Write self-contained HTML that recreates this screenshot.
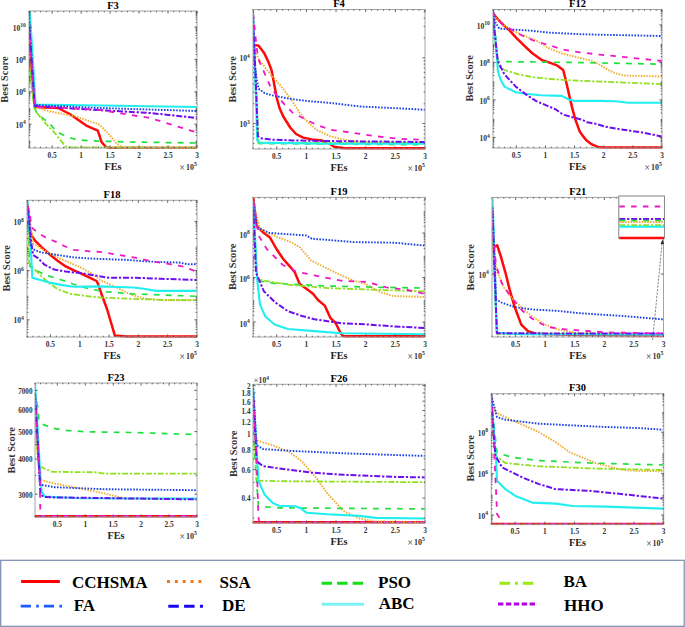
<!DOCTYPE html><html><head><meta charset="utf-8"><style>html,body{margin:0;padding:0;background:#fff;}svg{display:block;}</style></head><body>
<svg width="685" height="627" viewBox="0 0 685 627" font-family='"Liberation Serif", serif'>
<rect width="685" height="627" fill="#fff"/>
<clipPath id="c0"><rect x="29" y="10" width="168" height="139"/></clipPath>
<polyline points="29.0,40.0 34.7,107.0 58.0,108.0 69.7,114.0 86.3,125.6 97.8,130.7 101.6,142.2 106.0,147.0 109.3,148.0 197.0,148.0" fill="none" stroke="#ff0a0a" stroke-width="2.5" stroke-linejoin="round" clip-path="url(#c0)"/>
<polyline points="29.0,50.0 34.7,107.0 50.5,111.5 76.0,116.6 99.0,124.3 109.3,134.5 116.0,143.0 122.0,147.5 197.0,147.5" fill="none" stroke="#f0ac2c" stroke-width="1.9" stroke-dasharray="1.5 1.3" stroke-linejoin="round" clip-path="url(#c0)"/>
<polyline points="29.0,60.0 34.4,108.0 37.2,114.0 42.0,117.5 49.9,123.9 56.3,131.1 60.3,133.5 67.5,137.1 77.8,139.9 88.9,140.8 130.0,142.0 197.0,143.0" fill="none" stroke="#20e040" stroke-width="1.7" stroke-dasharray="5.8 6.2" stroke-linejoin="round" clip-path="url(#c0)"/>
<polyline points="29.0,66.0 34.4,108.0 38.0,114.4 46.0,123.9 53.9,131.9 60.3,139.9 65.1,145.9 67.5,147.4 197.0,147.6" fill="none" stroke="#90e020" stroke-width="1.8" stroke-dasharray="6 1.8 2.3 1.8" stroke-linejoin="round" clip-path="url(#c0)"/>
<polyline points="29.8,11.0 35.6,104.5 197.0,107.0" fill="none" stroke="#22eef0" stroke-width="2.1" stroke-linejoin="round" clip-path="url(#c0)"/>
<polyline points="29.0,18.0 34.7,105.0 100.0,108.0 197.0,111.0" fill="none" stroke="#1a40e8" stroke-width="1.9" stroke-dasharray="1.6 1.45" stroke-linejoin="round" clip-path="url(#c0)"/>
<polyline points="29.0,22.0 34.7,106.0 80.0,109.0 150.0,113.0 197.0,118.0" fill="none" stroke="#6c10f0" stroke-width="2.0" stroke-dasharray="6 1.8 2.3 1.8" stroke-linejoin="round" clip-path="url(#c0)"/>
<polyline points="29.0,28.0 34.7,107.0 70.0,108.0 100.0,110.0 150.0,118.0 197.0,132.5" fill="none" stroke="#f018c4" stroke-width="1.8" stroke-dasharray="5.5 6.3" stroke-linejoin="round" clip-path="url(#c0)"/>
<rect x="29" y="11" width="168" height="137" fill="none" stroke="#a4a4a4" stroke-width="1"/>
<path d="M29.00,148v-1.3M29.00,11v1.3M34.79,148v-1.3M34.79,11v1.3M40.59,148v-1.3M40.59,11v1.3M46.38,148v-1.3M46.38,11v1.3M52.17,148v-2.6M52.17,11v2.6M57.97,148v-1.3M57.97,11v1.3M63.76,148v-1.3M63.76,11v1.3M69.55,148v-1.3M69.55,11v1.3M75.34,148v-1.3M75.34,11v1.3M81.14,148v-2.6M81.14,11v2.6M86.93,148v-1.3M86.93,11v1.3M92.72,148v-1.3M92.72,11v1.3M98.52,148v-1.3M98.52,11v1.3M104.31,148v-1.3M104.31,11v1.3M110.10,148v-2.6M110.10,11v2.6M115.90,148v-1.3M115.90,11v1.3M121.69,148v-1.3M121.69,11v1.3M127.48,148v-1.3M127.48,11v1.3M133.28,148v-1.3M133.28,11v1.3M139.07,148v-2.6M139.07,11v2.6M144.86,148v-1.3M144.86,11v1.3M150.66,148v-1.3M150.66,11v1.3M156.45,148v-1.3M156.45,11v1.3M162.24,148v-1.3M162.24,11v1.3M168.03,148v-2.6M168.03,11v2.6M173.83,148v-1.3M173.83,11v1.3M179.62,148v-1.3M179.62,11v1.3M185.41,148v-1.3M185.41,11v1.3M191.21,148v-1.3M191.21,11v1.3M197.00,148v-2.6M197.00,11v2.6M29,124.20h2.6M197,124.20h-2.6M29,91.80h2.6M197,91.80h-2.6M29,59.40h2.6M197,59.40h-2.6M29,27.00h2.6M197,27.00h-2.6M29,146.85h1.3M197,146.85h-1.3M29,145.28h1.3M197,145.28h-1.3M29,143.99h1.3M197,143.99h-1.3M29,142.91h1.3M197,142.91h-1.3M29,141.97h1.3M197,141.97h-1.3M29,141.14h1.3M197,141.14h-1.3M29,135.52h1.3M197,135.52h-1.3M29,132.67h1.3M197,132.67h-1.3M29,130.65h1.3M197,130.65h-1.3M29,129.08h1.3M197,129.08h-1.3M29,127.79h1.3M197,127.79h-1.3M29,126.71h1.3M197,126.71h-1.3M29,125.77h1.3M197,125.77h-1.3M29,124.94h1.3M197,124.94h-1.3M29,119.32h1.3M197,119.32h-1.3M29,116.47h1.3M197,116.47h-1.3M29,114.45h1.3M197,114.45h-1.3M29,112.88h1.3M197,112.88h-1.3M29,111.59h1.3M197,111.59h-1.3M29,110.51h1.3M197,110.51h-1.3M29,109.57h1.3M197,109.57h-1.3M29,108.74h1.3M197,108.74h-1.3M29,103.12h1.3M197,103.12h-1.3M29,100.27h1.3M197,100.27h-1.3M29,98.25h1.3M197,98.25h-1.3M29,96.68h1.3M197,96.68h-1.3M29,95.39h1.3M197,95.39h-1.3M29,94.31h1.3M197,94.31h-1.3M29,93.37h1.3M197,93.37h-1.3M29,92.54h1.3M197,92.54h-1.3M29,86.92h1.3M197,86.92h-1.3M29,84.07h1.3M197,84.07h-1.3M29,82.05h1.3M197,82.05h-1.3M29,80.48h1.3M197,80.48h-1.3M29,79.19h1.3M197,79.19h-1.3M29,78.11h1.3M197,78.11h-1.3M29,77.17h1.3M197,77.17h-1.3M29,76.34h1.3M197,76.34h-1.3M29,70.72h1.3M197,70.72h-1.3M29,67.87h1.3M197,67.87h-1.3M29,65.85h1.3M197,65.85h-1.3M29,64.28h1.3M197,64.28h-1.3M29,62.99h1.3M197,62.99h-1.3M29,61.91h1.3M197,61.91h-1.3M29,60.97h1.3M197,60.97h-1.3M29,60.14h1.3M197,60.14h-1.3M29,54.52h1.3M197,54.52h-1.3M29,51.67h1.3M197,51.67h-1.3M29,49.65h1.3M197,49.65h-1.3M29,48.08h1.3M197,48.08h-1.3M29,46.79h1.3M197,46.79h-1.3M29,45.71h1.3M197,45.71h-1.3M29,44.77h1.3M197,44.77h-1.3M29,43.94h1.3M197,43.94h-1.3M29,38.32h1.3M197,38.32h-1.3M29,35.47h1.3M197,35.47h-1.3M29,33.45h1.3M197,33.45h-1.3M29,31.88h1.3M197,31.88h-1.3M29,30.59h1.3M197,30.59h-1.3M29,29.51h1.3M197,29.51h-1.3M29,28.57h1.3M197,28.57h-1.3M29,27.74h1.3M197,27.74h-1.3M29,22.12h1.3M197,22.12h-1.3M29,19.27h1.3M197,19.27h-1.3M29,17.25h1.3M197,17.25h-1.3M29,15.68h1.3M197,15.68h-1.3M29,14.39h1.3M197,14.39h-1.3M29,13.31h1.3M197,13.31h-1.3M29,12.37h1.3M197,12.37h-1.3M29,11.54h1.3M197,11.54h-1.3" stroke="#4a4a4a" stroke-width="0.85" fill="none"/>
<text x="52.2" y="158.0" font-size="7.4" text-anchor="middle" font-weight="bold" fill="#333">0.5</text>
<text x="81.1" y="158.0" font-size="7.4" text-anchor="middle" font-weight="bold" fill="#333">1</text>
<text x="110.1" y="158.0" font-size="7.4" text-anchor="middle" font-weight="bold" fill="#333">1.5</text>
<text x="139.1" y="158.0" font-size="7.4" text-anchor="middle" font-weight="bold" fill="#333">2</text>
<text x="168.0" y="158.0" font-size="7.4" text-anchor="middle" font-weight="bold" fill="#333">2.5</text>
<text x="197.0" y="158.0" font-size="7.4" text-anchor="middle" font-weight="bold" fill="#333">3</text>
<text x="196.8" y="169.8" font-size="8" font-weight="bold" text-anchor="end" fill="#333"><tspan font-size="9.5" font-weight="normal" dy="1.2">×</tspan><tspan dx="1" dy="-1.2">10</tspan><tspan font-size="5.8" dy="-3.6">5</tspan></text>
<text x="113.0" y="169.5" font-size="10.2" text-anchor="middle" font-weight="bold" fill="#222">FEs</text>
<text x="113.0" y="8.6" font-size="10.5" text-anchor="middle" font-weight="bold" fill="#000">F3</text>
<text transform="translate(8.4,79.5) rotate(-90)" font-size="10.4" text-anchor="middle" font-weight="bold" fill="#333">Best Score</text>
<text x="25.8" y="127.8" font-size="7.5" font-weight="bold" text-anchor="end" fill="#333">10<tspan font-size="5.6" dy="-3.5">4</tspan></text>
<text x="25.8" y="95.4" font-size="7.5" font-weight="bold" text-anchor="end" fill="#333">10<tspan font-size="5.6" dy="-3.5">6</tspan></text>
<text x="25.8" y="63.0" font-size="7.5" font-weight="bold" text-anchor="end" fill="#333">10<tspan font-size="5.6" dy="-3.5">8</tspan></text>
<text x="25.8" y="30.6" font-size="7.5" font-weight="bold" text-anchor="end" fill="#333">10<tspan font-size="5.6" dy="-3.5">10</tspan></text>
<clipPath id="c1"><rect x="253" y="8.5" width="172" height="141.5"/></clipPath>
<polyline points="253.0,45.2 258.4,45.4 264.5,53.6 268.4,62.0 271.5,70.0 273.7,81.5 276.6,97.3 279.5,108.0 283.0,116.0 290.2,127.5 296.0,134.0 303.1,137.6 311.8,139.4 321.8,140.4 329.0,143.3 334.0,146.8 344.6,148.2 425.0,148.2" fill="none" stroke="#ff0a0a" stroke-width="2.5" stroke-linejoin="round" clip-path="url(#c1)"/>
<polyline points="253.0,40.0 254.5,50.8 258.4,58.6 265.8,68.6 274.4,78.7 283.0,88.7 291.7,100.2 298.8,111.7 307.5,121.8 317.5,130.4 330.0,136.1 343.5,139.5 355.0,141.5 425.0,143.6" fill="none" stroke="#f0ac2c" stroke-width="1.9" stroke-dasharray="1.5 1.3" stroke-linejoin="round" clip-path="url(#c1)"/>
<polyline points="253.0,10.0 258.4,143.5 425.0,144.8" fill="none" stroke="#20e040" stroke-width="1.7" stroke-dasharray="5.8 6.2" stroke-linejoin="round" clip-path="url(#c1)"/>
<polyline points="253.0,20.0 258.4,142.8 425.0,143.2" fill="none" stroke="#90e020" stroke-width="1.8" stroke-dasharray="6 1.8 2.3 1.8" stroke-linejoin="round" clip-path="url(#c1)"/>
<polyline points="253.0,12.0 256.0,100.0 257.2,140.4 260.0,142.6 330.0,143.8 425.0,143.8" fill="none" stroke="#22eef0" stroke-width="2.1" stroke-linejoin="round" clip-path="url(#c1)"/>
<polyline points="253.0,12.8 254.3,60.0 256.5,78.7 258.6,88.7 264.4,93.0 271.5,95.2 285.9,98.1 300.3,100.2 314.6,101.7 330.0,102.9 360.0,106.5 400.0,108.4 425.0,109.8" fill="none" stroke="#1a40e8" stroke-width="1.9" stroke-dasharray="1.6 1.45" stroke-linejoin="round" clip-path="url(#c1)"/>
<polyline points="253.0,12.8 256.5,100.0 257.9,136.1 261.5,138.3 271.5,139.7 293.1,140.4 330.0,141.1 425.0,142.0" fill="none" stroke="#6c10f0" stroke-width="2.0" stroke-dasharray="6 1.8 2.3 1.8" stroke-linejoin="round" clip-path="url(#c1)"/>
<polyline points="253.0,12.8 256.2,43.0 257.8,56.4 259.3,61.4 264.4,72.9 270.1,85.9 275.9,94.5 285.9,106.0 293.1,113.1 304.6,118.9 316.1,124.6 330.0,129.6 358.4,133.7 373.0,135.9 387.6,137.6 400.0,138.8 425.0,139.9" fill="none" stroke="#f018c4" stroke-width="1.8" stroke-dasharray="5.5 6.3" stroke-linejoin="round" clip-path="url(#c1)"/>
<rect x="253" y="9.5" width="172" height="139.5" fill="none" stroke="#a4a4a4" stroke-width="1"/>
<path d="M253.00,149v-1.3M253.00,9.5v1.3M258.93,149v-1.3M258.93,9.5v1.3M264.86,149v-1.3M264.86,9.5v1.3M270.79,149v-1.3M270.79,9.5v1.3M276.72,149v-2.6M276.72,9.5v2.6M282.66,149v-1.3M282.66,9.5v1.3M288.59,149v-1.3M288.59,9.5v1.3M294.52,149v-1.3M294.52,9.5v1.3M300.45,149v-1.3M300.45,9.5v1.3M306.38,149v-2.6M306.38,9.5v2.6M312.31,149v-1.3M312.31,9.5v1.3M318.24,149v-1.3M318.24,9.5v1.3M324.17,149v-1.3M324.17,9.5v1.3M330.10,149v-1.3M330.10,9.5v1.3M336.03,149v-2.6M336.03,9.5v2.6M341.97,149v-1.3M341.97,9.5v1.3M347.90,149v-1.3M347.90,9.5v1.3M353.83,149v-1.3M353.83,9.5v1.3M359.76,149v-1.3M359.76,9.5v1.3M365.69,149v-2.6M365.69,9.5v2.6M371.62,149v-1.3M371.62,9.5v1.3M377.55,149v-1.3M377.55,9.5v1.3M383.48,149v-1.3M383.48,9.5v1.3M389.41,149v-1.3M389.41,9.5v1.3M395.34,149v-2.6M395.34,9.5v2.6M401.28,149v-1.3M401.28,9.5v1.3M407.21,149v-1.3M407.21,9.5v1.3M413.14,149v-1.3M413.14,9.5v1.3M419.07,149v-1.3M419.07,9.5v1.3M425.00,149v-2.6M425.00,9.5v2.6M253,123.60h2.6M425,123.60h-2.6M253,57.80h2.6M425,57.80h-2.6M253,143.41h1.3M425,143.41h-1.3M253,138.20h1.3M425,138.20h-1.3M253,133.79h1.3M425,133.79h-1.3M253,129.98h1.3M425,129.98h-1.3M253,126.61h1.3M425,126.61h-1.3M253,103.79h1.3M425,103.79h-1.3M253,92.21h1.3M425,92.21h-1.3M253,83.98h1.3M425,83.98h-1.3M253,77.61h1.3M425,77.61h-1.3M253,72.40h1.3M425,72.40h-1.3M253,67.99h1.3M425,67.99h-1.3M253,64.18h1.3M425,64.18h-1.3M253,60.81h1.3M425,60.81h-1.3M253,37.99h1.3M425,37.99h-1.3M253,26.41h1.3M425,26.41h-1.3M253,18.18h1.3M425,18.18h-1.3M253,11.81h1.3M425,11.81h-1.3" stroke="#4a4a4a" stroke-width="0.85" fill="none"/>
<text x="276.7" y="159.0" font-size="7.4" text-anchor="middle" font-weight="bold" fill="#333">0.5</text>
<text x="306.4" y="159.0" font-size="7.4" text-anchor="middle" font-weight="bold" fill="#333">1</text>
<text x="336.0" y="159.0" font-size="7.4" text-anchor="middle" font-weight="bold" fill="#333">1.5</text>
<text x="365.7" y="159.0" font-size="7.4" text-anchor="middle" font-weight="bold" fill="#333">2</text>
<text x="395.3" y="159.0" font-size="7.4" text-anchor="middle" font-weight="bold" fill="#333">2.5</text>
<text x="425.0" y="159.0" font-size="7.4" text-anchor="middle" font-weight="bold" fill="#333">3</text>
<text x="424.8" y="170.8" font-size="8" font-weight="bold" text-anchor="end" fill="#333"><tspan font-size="9.5" font-weight="normal" dy="1.2">×</tspan><tspan dx="1" dy="-1.2">10</tspan><tspan font-size="5.8" dy="-3.6">5</tspan></text>
<text x="339.0" y="170.5" font-size="10.2" text-anchor="middle" font-weight="bold" fill="#222">FEs</text>
<text x="339.0" y="7.1" font-size="10.5" text-anchor="middle" font-weight="bold" fill="#000">F4</text>
<text transform="translate(236,79.3) rotate(-90)" font-size="10.4" text-anchor="middle" font-weight="bold" fill="#333">Best Score</text>
<text x="249.8" y="127.2" font-size="7.5" font-weight="bold" text-anchor="end" fill="#333">10<tspan font-size="5.6" dy="-3.5">3</tspan></text>
<text x="249.8" y="61.4" font-size="7.5" font-weight="bold" text-anchor="end" fill="#333">10<tspan font-size="5.6" dy="-3.5">4</tspan></text>
<clipPath id="c2"><rect x="493" y="8.5" width="169" height="140.5"/></clipPath>
<polyline points="493.3,14.2 500.5,22.1 509.7,30.6 516.3,37.8 524.2,45.7 532.0,53.0 541.7,60.0 550.3,62.9 557.5,65.7 563.2,70.0 566.1,81.5 570.5,100.9 573.1,111.4 575.3,119.3 577.5,125.4 579.7,131.5 582.8,135.9 586.3,140.3 591.5,144.2 597.7,146.9 603.8,147.5 662.0,147.5" fill="none" stroke="#ff0a0a" stroke-width="2.5" stroke-linejoin="round" clip-path="url(#c2)"/>
<polyline points="493.3,15.5 500.5,22.1 509.7,29.3 522.8,35.2 536.0,40.5 549.1,48.4 562.3,53.6 580.0,57.9 592.0,60.9 600.0,64.9 608.0,69.9 615.9,73.4 623.9,75.5 662.0,76.5" fill="none" stroke="#f0ac2c" stroke-width="1.9" stroke-dasharray="1.5 1.3" stroke-linejoin="round" clip-path="url(#c2)"/>
<polyline points="493.0,10.0 497.9,61.6 519.2,61.8 583.5,62.6 662.0,64.2" fill="none" stroke="#20e040" stroke-width="1.7" stroke-dasharray="5.8 6.2" stroke-linejoin="round" clip-path="url(#c2)"/>
<polyline points="493.0,12.0 496.5,55.0 497.9,65.7 504.4,70.0 518.7,74.4 533.0,77.2 547.4,78.7 561.8,79.8 580.0,80.8 615.6,82.2 662.0,84.1" fill="none" stroke="#90e020" stroke-width="1.8" stroke-dasharray="6 1.8 2.3 1.8" stroke-linejoin="round" clip-path="url(#c2)"/>
<polyline points="492.6,10.3 495.9,44.4 497.2,60.0 497.9,71.5 500.8,80.1 504.4,86.6 515.8,92.3 525.9,93.7 540.2,95.2 561.8,95.9 568.9,99.5 574.7,100.9 599.5,100.9 615.6,101.2 628.4,102.8 662.0,102.8" fill="none" stroke="#22eef0" stroke-width="2.1" stroke-linejoin="round" clip-path="url(#c2)"/>
<polyline points="493.3,12.9 495.3,22.1 499.2,28.6 509.7,29.3 529.4,30.6 549.1,32.6 580.0,34.2 599.5,34.7 662.0,36.0" fill="none" stroke="#1a40e8" stroke-width="1.9" stroke-dasharray="1.6 1.45" stroke-linejoin="round" clip-path="url(#c2)"/>
<polyline points="493.3,18.1 496.6,51.0 497.9,61.4 504.4,74.4 515.8,86.6 525.9,94.4 535.9,100.9 547.4,105.9 556.0,109.5 560.0,112.7 564.4,114.9 573.1,117.5 581.9,119.7 587.2,122.3 595.0,123.6 603.8,126.3 612.6,128.0 620.0,129.3 641.3,132.3 662.0,136.5" fill="none" stroke="#6c10f0" stroke-width="2.0" stroke-dasharray="6 1.8 2.3 1.8" stroke-linejoin="round" clip-path="url(#c2)"/>
<polyline points="492.6,11.6 497.9,19.5 503.1,24.7 509.7,28.6 516.3,32.6 524.2,36.5 533.4,40.5 546.5,44.4 563.6,49.7 580.0,52.3 599.5,54.6 631.6,57.8 662.0,61.0" fill="none" stroke="#f018c4" stroke-width="1.8" stroke-dasharray="5.5 6.3" stroke-linejoin="round" clip-path="url(#c2)"/>
<rect x="493" y="9.5" width="169" height="138.5" fill="none" stroke="#a4a4a4" stroke-width="1"/>
<path d="M493.00,148v-1.3M493.00,9.5v1.3M498.83,148v-1.3M498.83,9.5v1.3M504.66,148v-1.3M504.66,9.5v1.3M510.48,148v-1.3M510.48,9.5v1.3M516.31,148v-2.6M516.31,9.5v2.6M522.14,148v-1.3M522.14,9.5v1.3M527.97,148v-1.3M527.97,9.5v1.3M533.79,148v-1.3M533.79,9.5v1.3M539.62,148v-1.3M539.62,9.5v1.3M545.45,148v-2.6M545.45,9.5v2.6M551.28,148v-1.3M551.28,9.5v1.3M557.10,148v-1.3M557.10,9.5v1.3M562.93,148v-1.3M562.93,9.5v1.3M568.76,148v-1.3M568.76,9.5v1.3M574.59,148v-2.6M574.59,9.5v2.6M580.41,148v-1.3M580.41,9.5v1.3M586.24,148v-1.3M586.24,9.5v1.3M592.07,148v-1.3M592.07,9.5v1.3M597.90,148v-1.3M597.90,9.5v1.3M603.72,148v-2.6M603.72,9.5v2.6M609.55,148v-1.3M609.55,9.5v1.3M615.38,148v-1.3M615.38,9.5v1.3M621.21,148v-1.3M621.21,9.5v1.3M627.03,148v-1.3M627.03,9.5v1.3M632.86,148v-2.6M632.86,9.5v2.6M638.69,148v-1.3M638.69,9.5v1.3M644.52,148v-1.3M644.52,9.5v1.3M650.34,148v-1.3M650.34,9.5v1.3M656.17,148v-1.3M656.17,9.5v1.3M662.00,148v-2.6M662.00,9.5v2.6M493,137.40h2.6M662,137.40h-2.6M493,99.90h2.6M662,99.90h-2.6M493,62.40h2.6M662,62.40h-2.6M493,24.90h2.6M662,24.90h-2.6M493,147.20h1.3M662,147.20h-1.3M493,144.86h1.3M662,144.86h-1.3M493,143.04h1.3M662,143.04h-1.3M493,141.56h1.3M662,141.56h-1.3M493,140.30h1.3M662,140.30h-1.3M493,139.22h1.3M662,139.22h-1.3M493,138.26h1.3M662,138.26h-1.3M493,131.76h1.3M662,131.76h-1.3M493,128.45h1.3M662,128.45h-1.3M493,126.11h1.3M662,126.11h-1.3M493,124.29h1.3M662,124.29h-1.3M493,122.81h1.3M662,122.81h-1.3M493,121.55h1.3M662,121.55h-1.3M493,120.47h1.3M662,120.47h-1.3M493,119.51h1.3M662,119.51h-1.3M493,113.01h1.3M662,113.01h-1.3M493,109.70h1.3M662,109.70h-1.3M493,107.36h1.3M662,107.36h-1.3M493,105.54h1.3M662,105.54h-1.3M493,104.06h1.3M662,104.06h-1.3M493,102.80h1.3M662,102.80h-1.3M493,101.72h1.3M662,101.72h-1.3M493,100.76h1.3M662,100.76h-1.3M493,94.26h1.3M662,94.26h-1.3M493,90.95h1.3M662,90.95h-1.3M493,88.61h1.3M662,88.61h-1.3M493,86.79h1.3M662,86.79h-1.3M493,85.31h1.3M662,85.31h-1.3M493,84.05h1.3M662,84.05h-1.3M493,82.97h1.3M662,82.97h-1.3M493,82.01h1.3M662,82.01h-1.3M493,75.51h1.3M662,75.51h-1.3M493,72.20h1.3M662,72.20h-1.3M493,69.86h1.3M662,69.86h-1.3M493,68.04h1.3M662,68.04h-1.3M493,66.56h1.3M662,66.56h-1.3M493,65.30h1.3M662,65.30h-1.3M493,64.22h1.3M662,64.22h-1.3M493,63.26h1.3M662,63.26h-1.3M493,56.76h1.3M662,56.76h-1.3M493,53.45h1.3M662,53.45h-1.3M493,51.11h1.3M662,51.11h-1.3M493,49.29h1.3M662,49.29h-1.3M493,47.81h1.3M662,47.81h-1.3M493,46.55h1.3M662,46.55h-1.3M493,45.47h1.3M662,45.47h-1.3M493,44.51h1.3M662,44.51h-1.3M493,38.01h1.3M662,38.01h-1.3M493,34.70h1.3M662,34.70h-1.3M493,32.36h1.3M662,32.36h-1.3M493,30.54h1.3M662,30.54h-1.3M493,29.06h1.3M662,29.06h-1.3M493,27.80h1.3M662,27.80h-1.3M493,26.72h1.3M662,26.72h-1.3M493,25.76h1.3M662,25.76h-1.3M493,19.26h1.3M662,19.26h-1.3M493,15.95h1.3M662,15.95h-1.3M493,13.61h1.3M662,13.61h-1.3M493,11.79h1.3M662,11.79h-1.3M493,10.31h1.3M662,10.31h-1.3" stroke="#4a4a4a" stroke-width="0.85" fill="none"/>
<text x="516.3" y="158.0" font-size="7.4" text-anchor="middle" font-weight="bold" fill="#333">0.5</text>
<text x="545.4" y="158.0" font-size="7.4" text-anchor="middle" font-weight="bold" fill="#333">1</text>
<text x="574.6" y="158.0" font-size="7.4" text-anchor="middle" font-weight="bold" fill="#333">1.5</text>
<text x="603.7" y="158.0" font-size="7.4" text-anchor="middle" font-weight="bold" fill="#333">2</text>
<text x="632.9" y="158.0" font-size="7.4" text-anchor="middle" font-weight="bold" fill="#333">2.5</text>
<text x="662.0" y="158.0" font-size="7.4" text-anchor="middle" font-weight="bold" fill="#333">3</text>
<text x="661.8" y="169.8" font-size="8" font-weight="bold" text-anchor="end" fill="#333"><tspan font-size="9.5" font-weight="normal" dy="1.2">×</tspan><tspan dx="1" dy="-1.2">10</tspan><tspan font-size="5.8" dy="-3.6">5</tspan></text>
<text x="577.5" y="169.5" font-size="10.2" text-anchor="middle" font-weight="bold" fill="#222">FEs</text>
<text x="577.5" y="7.1" font-size="10.5" text-anchor="middle" font-weight="bold" fill="#000">F12</text>
<text transform="translate(472.8,78.3) rotate(-90)" font-size="10.4" text-anchor="middle" font-weight="bold" fill="#333">Best Score</text>
<text x="489.8" y="141.0" font-size="7.5" font-weight="bold" text-anchor="end" fill="#333">10<tspan font-size="5.6" dy="-3.5">4</tspan></text>
<text x="489.8" y="103.5" font-size="7.5" font-weight="bold" text-anchor="end" fill="#333">10<tspan font-size="5.6" dy="-3.5">6</tspan></text>
<text x="489.8" y="66.0" font-size="7.5" font-weight="bold" text-anchor="end" fill="#333">10<tspan font-size="5.6" dy="-3.5">8</tspan></text>
<text x="489.8" y="28.5" font-size="7.5" font-weight="bold" text-anchor="end" fill="#333">10<tspan font-size="5.6" dy="-3.5">10</tspan></text>
<clipPath id="c3"><rect x="27" y="199.3" width="170" height="138.7"/></clipPath>
<polyline points="27.4,218.6 30.0,230.0 31.5,235.4 34.8,240.3 41.3,246.8 49.4,254.2 57.6,260.7 65.7,266.4 73.8,270.4 80.3,273.2 90.1,277.8 96.6,281.0 98.2,284.3 101.5,294.0 107.0,309.0 114.9,335.6 126.3,336.6 197.0,336.6" fill="none" stroke="#ff0a0a" stroke-width="2.5" stroke-linejoin="round" clip-path="url(#c3)"/>
<polyline points="27.9,216.0 29.9,219.2 33.1,243.6 41.3,248.5 49.4,253.3 57.6,257.4 70.6,263.1 82.0,268.0 93.4,274.5 100.0,280.0 117.5,287.9 131.6,294.9 143.9,298.4 161.4,300.2 197.0,300.2" fill="none" stroke="#f0ac2c" stroke-width="1.9" stroke-dasharray="1.5 1.3" stroke-linejoin="round" clip-path="url(#c3)"/>
<polyline points="27.9,215.0 29.9,266.4 34.8,269.6 41.3,272.9 49.4,276.1 62.4,280.2 73.8,284.3 90.1,289.1 107.0,291.8 135.1,294.0 161.4,294.9 197.0,296.3" fill="none" stroke="#20e040" stroke-width="1.7" stroke-dasharray="5.8 6.2" stroke-linejoin="round" clip-path="url(#c3)"/>
<polyline points="27.9,212.0 29.1,263.1 33.1,268.0 41.3,276.1 49.4,283.4 57.6,289.1 70.6,294.0 90.1,296.5 100.0,297.5 135.1,298.9 161.4,299.8 197.0,300.2" fill="none" stroke="#90e020" stroke-width="1.8" stroke-dasharray="6 1.8 2.3 1.8" stroke-linejoin="round" clip-path="url(#c3)"/>
<polyline points="27.4,201.3 30.7,246.8 32.3,277.7 34.8,278.6 41.3,280.2 49.4,282.6 62.4,285.1 73.8,286.7 100.0,286.4 117.5,287.0 133.3,287.5 143.9,288.8 156.1,290.9 197.0,290.9" fill="none" stroke="#22eef0" stroke-width="2.1" stroke-linejoin="round" clip-path="url(#c3)"/>
<polyline points="27.9,208.1 29.1,219.2 30.7,246.8 34.8,250.1 41.3,252.5 57.6,255.0 73.8,257.4 90.1,258.5 115.0,259.5 126.3,259.8 143.9,261.2 161.4,262.1 178.9,262.5 187.7,264.2 197.0,264.2" fill="none" stroke="#1a40e8" stroke-width="1.9" stroke-dasharray="1.6 1.45" stroke-linejoin="round" clip-path="url(#c3)"/>
<polyline points="28.3,207.8 30.7,238.7 33.1,255.0 38.0,258.2 44.5,264.7 54.3,269.6 65.7,271.6 82.0,273.2 98.2,276.1 108.8,277.7 135.1,277.7 161.4,278.8 197.0,280.0" fill="none" stroke="#6c10f0" stroke-width="2.0" stroke-dasharray="6 1.8 2.3 1.8" stroke-linejoin="round" clip-path="url(#c3)"/>
<polyline points="27.4,204.5 29.9,214.3 31.5,227.3 38.0,233.0 46.2,237.9 54.3,241.1 64.1,246.0 73.8,249.8 90.1,251.4 100.0,251.9 117.5,254.6 135.1,257.7 152.6,261.6 170.2,264.2 184.2,266.8 197.0,272.0" fill="none" stroke="#f018c4" stroke-width="1.8" stroke-dasharray="5.5 6.3" stroke-linejoin="round" clip-path="url(#c3)"/>
<rect x="27" y="200.3" width="170" height="136.7" fill="none" stroke="#a4a4a4" stroke-width="1"/>
<path d="M27.00,337v-1.3M27.00,200.3v1.3M32.86,337v-1.3M32.86,200.3v1.3M38.72,337v-1.3M38.72,200.3v1.3M44.59,337v-1.3M44.59,200.3v1.3M50.45,337v-2.6M50.45,200.3v2.6M56.31,337v-1.3M56.31,200.3v1.3M62.17,337v-1.3M62.17,200.3v1.3M68.03,337v-1.3M68.03,200.3v1.3M73.90,337v-1.3M73.90,200.3v1.3M79.76,337v-2.6M79.76,200.3v2.6M85.62,337v-1.3M85.62,200.3v1.3M91.48,337v-1.3M91.48,200.3v1.3M97.34,337v-1.3M97.34,200.3v1.3M103.21,337v-1.3M103.21,200.3v1.3M109.07,337v-2.6M109.07,200.3v2.6M114.93,337v-1.3M114.93,200.3v1.3M120.79,337v-1.3M120.79,200.3v1.3M126.66,337v-1.3M126.66,200.3v1.3M132.52,337v-1.3M132.52,200.3v1.3M138.38,337v-2.6M138.38,200.3v2.6M144.24,337v-1.3M144.24,200.3v1.3M150.10,337v-1.3M150.10,200.3v1.3M155.97,337v-1.3M155.97,200.3v1.3M161.83,337v-1.3M161.83,200.3v1.3M167.69,337v-2.6M167.69,200.3v2.6M173.55,337v-1.3M173.55,200.3v1.3M179.41,337v-1.3M179.41,200.3v1.3M185.28,337v-1.3M185.28,200.3v1.3M191.14,337v-1.3M191.14,200.3v1.3M197.00,337v-2.6M197.00,200.3v2.6M27,319.80h2.6M197,319.80h-2.6M27,270.60h2.6M197,270.60h-2.6M27,221.40h2.6M197,221.40h-2.6M27,336.99h1.3M197,336.99h-1.3M27,332.66h1.3M197,332.66h-1.3M27,329.59h1.3M197,329.59h-1.3M27,327.21h1.3M197,327.21h-1.3M27,325.26h1.3M197,325.26h-1.3M27,323.61h1.3M197,323.61h-1.3M27,322.18h1.3M197,322.18h-1.3M27,320.93h1.3M197,320.93h-1.3M27,312.39h1.3M197,312.39h-1.3M27,308.06h1.3M197,308.06h-1.3M27,304.99h1.3M197,304.99h-1.3M27,302.61h1.3M197,302.61h-1.3M27,300.66h1.3M197,300.66h-1.3M27,299.01h1.3M197,299.01h-1.3M27,297.58h1.3M197,297.58h-1.3M27,296.33h1.3M197,296.33h-1.3M27,287.79h1.3M197,287.79h-1.3M27,283.46h1.3M197,283.46h-1.3M27,280.39h1.3M197,280.39h-1.3M27,278.01h1.3M197,278.01h-1.3M27,276.06h1.3M197,276.06h-1.3M27,274.41h1.3M197,274.41h-1.3M27,272.98h1.3M197,272.98h-1.3M27,271.73h1.3M197,271.73h-1.3M27,263.19h1.3M197,263.19h-1.3M27,258.86h1.3M197,258.86h-1.3M27,255.79h1.3M197,255.79h-1.3M27,253.41h1.3M197,253.41h-1.3M27,251.46h1.3M197,251.46h-1.3M27,249.81h1.3M197,249.81h-1.3M27,248.38h1.3M197,248.38h-1.3M27,247.13h1.3M197,247.13h-1.3M27,238.59h1.3M197,238.59h-1.3M27,234.26h1.3M197,234.26h-1.3M27,231.19h1.3M197,231.19h-1.3M27,228.81h1.3M197,228.81h-1.3M27,226.86h1.3M197,226.86h-1.3M27,225.21h1.3M197,225.21h-1.3M27,223.78h1.3M197,223.78h-1.3M27,222.53h1.3M197,222.53h-1.3M27,213.99h1.3M197,213.99h-1.3M27,209.66h1.3M197,209.66h-1.3M27,206.59h1.3M197,206.59h-1.3M27,204.21h1.3M197,204.21h-1.3M27,202.26h1.3M197,202.26h-1.3M27,200.61h1.3M197,200.61h-1.3" stroke="#4a4a4a" stroke-width="0.85" fill="none"/>
<text x="50.4" y="347.0" font-size="7.4" text-anchor="middle" font-weight="bold" fill="#333">0.5</text>
<text x="79.8" y="347.0" font-size="7.4" text-anchor="middle" font-weight="bold" fill="#333">1</text>
<text x="109.1" y="347.0" font-size="7.4" text-anchor="middle" font-weight="bold" fill="#333">1.5</text>
<text x="138.4" y="347.0" font-size="7.4" text-anchor="middle" font-weight="bold" fill="#333">2</text>
<text x="167.7" y="347.0" font-size="7.4" text-anchor="middle" font-weight="bold" fill="#333">2.5</text>
<text x="197.0" y="347.0" font-size="7.4" text-anchor="middle" font-weight="bold" fill="#333">3</text>
<text x="196.8" y="358.8" font-size="8" font-weight="bold" text-anchor="end" fill="#333"><tspan font-size="9.5" font-weight="normal" dy="1.2">×</tspan><tspan dx="1" dy="-1.2">10</tspan><tspan font-size="5.8" dy="-3.6">5</tspan></text>
<text x="112.0" y="358.5" font-size="10.2" text-anchor="middle" font-weight="bold" fill="#222">FEs</text>
<text x="112.0" y="197.9" font-size="10.5" text-anchor="middle" font-weight="bold" fill="#000">F18</text>
<text transform="translate(9.6,268.4) rotate(-90)" font-size="10.4" text-anchor="middle" font-weight="bold" fill="#333">Best Score</text>
<text x="23.8" y="323.4" font-size="7.5" font-weight="bold" text-anchor="end" fill="#333">10<tspan font-size="5.6" dy="-3.5">4</tspan></text>
<text x="23.8" y="274.2" font-size="7.5" font-weight="bold" text-anchor="end" fill="#333">10<tspan font-size="5.6" dy="-3.5">6</tspan></text>
<text x="23.8" y="225.0" font-size="7.5" font-weight="bold" text-anchor="end" fill="#333">10<tspan font-size="5.6" dy="-3.5">8</tspan></text>
<clipPath id="c4"><rect x="253" y="196.4" width="172" height="141.6"/></clipPath>
<polyline points="253.3,197.7 256.6,225.8 263.3,232.5 269.9,237.4 276.5,249.0 283.2,259.0 289.8,266.4 294.8,272.2 299.7,283.9 306.4,288.8 313.0,293.8 318.0,300.0 325.0,305.9 330.4,317.9 335.7,323.2 341.0,333.8 343.6,336.2 425.0,336.2" fill="none" stroke="#ff0a0a" stroke-width="2.5" stroke-linejoin="round" clip-path="url(#c4)"/>
<polyline points="254.1,206.0 259.9,229.2 266.6,232.5 276.5,236.6 291.4,242.4 300.0,247.5 311.2,260.6 322.4,266.2 337.4,273.6 352.3,280.2 365.4,283.9 380.4,292.3 393.4,296.0 425.0,297.0" fill="none" stroke="#f0ac2c" stroke-width="1.9" stroke-dasharray="1.5 1.3" stroke-linejoin="round" clip-path="url(#c4)"/>
<polyline points="253.3,210.0 257.3,280.7 274.6,283.3 327.7,286.0 380.8,287.3 425.0,288.1" fill="none" stroke="#20e040" stroke-width="1.7" stroke-dasharray="5.8 6.2" stroke-linejoin="round" clip-path="url(#c4)"/>
<polyline points="253.3,215.0 257.3,279.3 287.9,284.7 327.7,288.1 380.8,290.0 425.0,291.3" fill="none" stroke="#90e020" stroke-width="1.8" stroke-dasharray="6 1.8 2.3 1.8" stroke-linejoin="round" clip-path="url(#c4)"/>
<polyline points="253.3,201.0 257.3,280.7 260.0,304.6 265.3,316.5 274.6,324.5 287.9,329.0 314.4,331.1 341.0,333.3 425.0,334.3" fill="none" stroke="#22eef0" stroke-width="2.1" stroke-linejoin="round" clip-path="url(#c4)"/>
<polyline points="253.3,203.6 257.3,227.5 269.3,232.9 306.4,235.5 311.8,238.7 354.3,242.1 394.1,242.7 425.0,245.6" fill="none" stroke="#1a40e8" stroke-width="1.9" stroke-dasharray="1.6 1.45" stroke-linejoin="round" clip-path="url(#c4)"/>
<polyline points="253.3,206.3 256.0,272.7 263.9,291.3 274.6,301.9 287.9,311.2 301.1,315.7 314.4,319.2 341.0,323.2 367.6,324.5 394.1,326.4 425.0,328.0" fill="none" stroke="#6c10f0" stroke-width="2.0" stroke-dasharray="6 1.8 2.3 1.8" stroke-linejoin="round" clip-path="url(#c4)"/>
<polyline points="253.3,201.0 258.6,235.5 266.6,248.8 282.5,264.7 295.8,271.4 314.4,275.4 341.0,280.7 367.6,282.0 386.2,287.3 407.4,290.0 425.0,294.0" fill="none" stroke="#f018c4" stroke-width="1.8" stroke-dasharray="5.5 6.3" stroke-linejoin="round" clip-path="url(#c4)"/>
<rect x="253" y="197.4" width="172" height="139.6" fill="none" stroke="#a4a4a4" stroke-width="1"/>
<path d="M253.00,337v-1.3M253.00,197.4v1.3M258.93,337v-1.3M258.93,197.4v1.3M264.86,337v-1.3M264.86,197.4v1.3M270.79,337v-1.3M270.79,197.4v1.3M276.72,337v-2.6M276.72,197.4v2.6M282.66,337v-1.3M282.66,197.4v1.3M288.59,337v-1.3M288.59,197.4v1.3M294.52,337v-1.3M294.52,197.4v1.3M300.45,337v-1.3M300.45,197.4v1.3M306.38,337v-2.6M306.38,197.4v2.6M312.31,337v-1.3M312.31,197.4v1.3M318.24,337v-1.3M318.24,197.4v1.3M324.17,337v-1.3M324.17,197.4v1.3M330.10,337v-1.3M330.10,197.4v1.3M336.03,337v-2.6M336.03,197.4v2.6M341.97,337v-1.3M341.97,197.4v1.3M347.90,337v-1.3M347.90,197.4v1.3M353.83,337v-1.3M353.83,197.4v1.3M359.76,337v-1.3M359.76,197.4v1.3M365.69,337v-2.6M365.69,197.4v2.6M371.62,337v-1.3M371.62,197.4v1.3M377.55,337v-1.3M377.55,197.4v1.3M383.48,337v-1.3M383.48,197.4v1.3M389.41,337v-1.3M389.41,197.4v1.3M395.34,337v-2.6M395.34,197.4v2.6M401.28,337v-1.3M401.28,197.4v1.3M407.21,337v-1.3M407.21,197.4v1.3M413.14,337v-1.3M413.14,197.4v1.3M419.07,337v-1.3M419.07,197.4v1.3M425.00,337v-2.6M425.00,197.4v2.6M253,322.00h2.6M425,322.00h-2.6M253,277.50h2.6M425,277.50h-2.6M253,233.00h2.6M425,233.00h-2.6M253,333.63h1.3M425,333.63h-1.3M253,330.85h1.3M425,330.85h-1.3M253,328.70h1.3M425,328.70h-1.3M253,326.94h1.3M425,326.94h-1.3M253,325.45h1.3M425,325.45h-1.3M253,324.16h1.3M425,324.16h-1.3M253,323.02h1.3M425,323.02h-1.3M253,315.30h1.3M425,315.30h-1.3M253,311.38h1.3M425,311.38h-1.3M253,308.60h1.3M425,308.60h-1.3M253,306.45h1.3M425,306.45h-1.3M253,304.69h1.3M425,304.69h-1.3M253,303.20h1.3M425,303.20h-1.3M253,301.91h1.3M425,301.91h-1.3M253,300.77h1.3M425,300.77h-1.3M253,293.05h1.3M425,293.05h-1.3M253,289.13h1.3M425,289.13h-1.3M253,286.35h1.3M425,286.35h-1.3M253,284.20h1.3M425,284.20h-1.3M253,282.44h1.3M425,282.44h-1.3M253,280.95h1.3M425,280.95h-1.3M253,279.66h1.3M425,279.66h-1.3M253,278.52h1.3M425,278.52h-1.3M253,270.80h1.3M425,270.80h-1.3M253,266.88h1.3M425,266.88h-1.3M253,264.10h1.3M425,264.10h-1.3M253,261.95h1.3M425,261.95h-1.3M253,260.19h1.3M425,260.19h-1.3M253,258.70h1.3M425,258.70h-1.3M253,257.41h1.3M425,257.41h-1.3M253,256.27h1.3M425,256.27h-1.3M253,248.55h1.3M425,248.55h-1.3M253,244.63h1.3M425,244.63h-1.3M253,241.85h1.3M425,241.85h-1.3M253,239.70h1.3M425,239.70h-1.3M253,237.94h1.3M425,237.94h-1.3M253,236.45h1.3M425,236.45h-1.3M253,235.16h1.3M425,235.16h-1.3M253,234.02h1.3M425,234.02h-1.3M253,226.30h1.3M425,226.30h-1.3M253,222.38h1.3M425,222.38h-1.3M253,219.60h1.3M425,219.60h-1.3M253,217.45h1.3M425,217.45h-1.3M253,215.69h1.3M425,215.69h-1.3M253,214.20h1.3M425,214.20h-1.3M253,212.91h1.3M425,212.91h-1.3M253,211.77h1.3M425,211.77h-1.3M253,204.05h1.3M425,204.05h-1.3M253,200.13h1.3M425,200.13h-1.3" stroke="#4a4a4a" stroke-width="0.85" fill="none"/>
<text x="276.7" y="347.0" font-size="7.4" text-anchor="middle" font-weight="bold" fill="#333">0.5</text>
<text x="306.4" y="347.0" font-size="7.4" text-anchor="middle" font-weight="bold" fill="#333">1</text>
<text x="336.0" y="347.0" font-size="7.4" text-anchor="middle" font-weight="bold" fill="#333">1.5</text>
<text x="365.7" y="347.0" font-size="7.4" text-anchor="middle" font-weight="bold" fill="#333">2</text>
<text x="395.3" y="347.0" font-size="7.4" text-anchor="middle" font-weight="bold" fill="#333">2.5</text>
<text x="425.0" y="347.0" font-size="7.4" text-anchor="middle" font-weight="bold" fill="#333">3</text>
<text x="424.8" y="358.8" font-size="8" font-weight="bold" text-anchor="end" fill="#333"><tspan font-size="9.5" font-weight="normal" dy="1.2">×</tspan><tspan dx="1" dy="-1.2">10</tspan><tspan font-size="5.8" dy="-3.6">5</tspan></text>
<text x="339.0" y="358.5" font-size="10.2" text-anchor="middle" font-weight="bold" fill="#222">FEs</text>
<text x="339.0" y="195.0" font-size="10.5" text-anchor="middle" font-weight="bold" fill="#000">F19</text>
<text transform="translate(235.9,266.8) rotate(-90)" font-size="10.4" text-anchor="middle" font-weight="bold" fill="#333">Best Score</text>
<text x="249.8" y="326.5" font-size="7.5" font-weight="bold" text-anchor="end" fill="#333">10<tspan font-size="5.6" dy="-3.5">4</tspan></text>
<text x="249.8" y="282.0" font-size="7.5" font-weight="bold" text-anchor="end" fill="#333">10<tspan font-size="5.6" dy="-3.5">6</tspan></text>
<text x="249.8" y="237.5" font-size="7.5" font-weight="bold" text-anchor="end" fill="#333">10<tspan font-size="5.6" dy="-3.5">8</tspan></text>
<clipPath id="c5"><rect x="492" y="196.4" width="171.5" height="141.6"/></clipPath>
<polyline points="494.9,246.5 497.2,245.4 500.6,255.7 505.2,271.8 509.8,290.1 514.4,306.2 521.3,324.6 528.2,331.4 536.2,333.7 578.0,334.9 663.0,335.5" fill="none" stroke="#ff0a0a" stroke-width="2.5" stroke-linejoin="round" clip-path="url(#c5)"/>
<polyline points="491.4,230.4 493.7,253.4 497.2,271.8 504.1,287.8 511.0,297.0 522.4,308.5 533.9,317.7 545.4,324.6 556.9,329.2 578.0,333.2 663.0,334.2" fill="none" stroke="#f0ac2c" stroke-width="1.9" stroke-dasharray="1.5 1.3" stroke-linejoin="round" clip-path="url(#c5)"/>
<polyline points="492.3,230.0 497.0,333.5 663.0,333.8" fill="none" stroke="#20e040" stroke-width="1.7" stroke-dasharray="5.8 6.2" stroke-linejoin="round" clip-path="url(#c5)"/>
<polyline points="492.3,225.0 497.0,333.8 663.0,334.0" fill="none" stroke="#90e020" stroke-width="1.8" stroke-dasharray="6 1.8 2.3 1.8" stroke-linejoin="round" clip-path="url(#c5)"/>
<polyline points="492.6,198.5 494.5,260.0 496.5,332.8 520.0,334.2 663.0,334.6" fill="none" stroke="#22eef0" stroke-width="2.1" stroke-linejoin="round" clip-path="url(#c5)"/>
<polyline points="492.6,207.5 494.9,264.9 496.0,299.3 501.8,302.7 515.5,307.3 533.9,309.6 556.9,310.8 578.0,313.1 622.9,316.0 663.0,319.4" fill="none" stroke="#1a40e8" stroke-width="1.9" stroke-dasharray="1.6 1.45" stroke-linejoin="round" clip-path="url(#c5)"/>
<polyline points="492.3,212.0 497.0,333.3 663.0,333.6" fill="none" stroke="#6c10f0" stroke-width="2.0" stroke-dasharray="6 1.8 2.3 1.8" stroke-linejoin="round" clip-path="url(#c5)"/>
<polyline points="491.4,209.8 493.7,241.9 496.0,264.9 501.8,283.2 511.0,297.0 522.4,310.8 533.9,320.0 547.7,326.9 563.8,329.2 578.0,330.3 606.1,332.4 663.0,333.4" fill="none" stroke="#f018c4" stroke-width="1.8" stroke-dasharray="5.5 6.3" stroke-linejoin="round" clip-path="url(#c5)"/>
<rect x="492" y="197.4" width="171.5" height="139.6" fill="none" stroke="#a4a4a4" stroke-width="1"/>
<path d="M492.00,337v-1.3M492.00,197.4v1.3M497.91,337v-1.3M497.91,197.4v1.3M503.83,337v-1.3M503.83,197.4v1.3M509.74,337v-1.3M509.74,197.4v1.3M515.66,337v-2.6M515.66,197.4v2.6M521.57,337v-1.3M521.57,197.4v1.3M527.48,337v-1.3M527.48,197.4v1.3M533.40,337v-1.3M533.40,197.4v1.3M539.31,337v-1.3M539.31,197.4v1.3M545.22,337v-2.6M545.22,197.4v2.6M551.14,337v-1.3M551.14,197.4v1.3M557.05,337v-1.3M557.05,197.4v1.3M562.97,337v-1.3M562.97,197.4v1.3M568.88,337v-1.3M568.88,197.4v1.3M574.79,337v-2.6M574.79,197.4v2.6M580.71,337v-1.3M580.71,197.4v1.3M586.62,337v-1.3M586.62,197.4v1.3M592.53,337v-1.3M592.53,197.4v1.3M598.45,337v-1.3M598.45,197.4v1.3M604.36,337v-2.6M604.36,197.4v2.6M610.28,337v-1.3M610.28,197.4v1.3M616.19,337v-1.3M616.19,197.4v1.3M622.10,337v-1.3M622.10,197.4v1.3M628.02,337v-1.3M628.02,197.4v1.3M633.93,337v-2.6M633.93,197.4v2.6M639.84,337v-1.3M639.84,197.4v1.3M645.76,337v-1.3M645.76,197.4v1.3M651.67,337v-1.3M651.67,197.4v1.3M657.59,337v-1.3M657.59,197.4v1.3M663.50,337v-2.6M663.50,197.4v2.6M492,274.10h2.6M663.5,274.10h-2.6" stroke="#4a4a4a" stroke-width="0.85" fill="none"/>
<text x="515.7" y="347.0" font-size="7.4" text-anchor="middle" font-weight="bold" fill="#333">0.5</text>
<text x="545.2" y="347.0" font-size="7.4" text-anchor="middle" font-weight="bold" fill="#333">1</text>
<text x="574.8" y="347.0" font-size="7.4" text-anchor="middle" font-weight="bold" fill="#333">1.5</text>
<text x="604.4" y="347.0" font-size="7.4" text-anchor="middle" font-weight="bold" fill="#333">2</text>
<text x="633.9" y="347.0" font-size="7.4" text-anchor="middle" font-weight="bold" fill="#333">2.5</text>
<text x="663.5" y="347.0" font-size="7.4" text-anchor="middle" font-weight="bold" fill="#333">3</text>
<text x="663.3" y="358.8" font-size="8" font-weight="bold" text-anchor="end" fill="#333"><tspan font-size="9.5" font-weight="normal" dy="1.2">×</tspan><tspan dx="1" dy="-1.2">10</tspan><tspan font-size="5.8" dy="-3.6">5</tspan></text>
<text x="577.8" y="358.5" font-size="10.2" text-anchor="middle" font-weight="bold" fill="#222">FEs</text>
<text x="577.8" y="195.0" font-size="10.5" text-anchor="middle" font-weight="bold" fill="#000">F21</text>
<text transform="translate(474.3,267.3) rotate(-90)" font-size="10.4" text-anchor="middle" font-weight="bold" fill="#333">Best Score</text>
<text x="488.8" y="277.7" font-size="7.5" font-weight="bold" text-anchor="end" fill="#333">10<tspan font-size="5.6" dy="-3.5">4</tspan></text>
<clipPath id="c6"><rect x="35" y="382" width="162" height="136"/></clipPath>
<polyline points="35.0,516.2 197.0,516.2" fill="none" stroke="#ff0a0a" stroke-width="2.5" stroke-linejoin="round" clip-path="url(#c6)"/>
<polyline points="35.0,425.0 36.2,440.0 39.9,479.8 54.8,483.5 79.6,488.4 104.5,493.4 124.3,498.4 197.0,498.9" fill="none" stroke="#f0ac2c" stroke-width="1.9" stroke-dasharray="1.5 1.3" stroke-linejoin="round" clip-path="url(#c6)"/>
<polyline points="35.0,390.0 35.6,397.9 37.8,406.8 38.9,420.2 43.4,424.6 52.3,428.0 63.5,430.2 85.8,431.8 130.0,432.5 154.1,433.1 197.0,434.6" fill="none" stroke="#20e040" stroke-width="1.7" stroke-dasharray="5.8 6.2" stroke-linejoin="round" clip-path="url(#c6)"/>
<polyline points="35.0,420.0 36.2,435.1 38.7,466.1 52.3,471.8 97.0,472.3 104.5,473.6 197.0,473.6" fill="none" stroke="#90e020" stroke-width="1.8" stroke-dasharray="6 1.8 2.3 1.8" stroke-linejoin="round" clip-path="url(#c6)"/>
<polyline points="35.0,383.0 40.0,470.0 41.5,491.5 45.0,496.6 79.6,498.2 197.0,498.6" fill="none" stroke="#22eef0" stroke-width="2.1" stroke-linejoin="round" clip-path="url(#c6)"/>
<polyline points="35.0,395.4 39.9,484.7 54.8,487.2 104.5,489.2 197.0,490.2" fill="none" stroke="#1a40e8" stroke-width="1.9" stroke-dasharray="1.6 1.45" stroke-linejoin="round" clip-path="url(#c6)"/>
<polyline points="35.0,392.9 39.8,480.0 40.4,494.5 44.0,497.0 54.8,497.4 197.0,499.4" fill="none" stroke="#6c10f0" stroke-width="2.0" stroke-dasharray="6 1.8 2.3 1.8" stroke-linejoin="round" clip-path="url(#c6)"/>
<polyline points="35.0,397.9 39.6,470.0 40.4,516.0 197.0,516.0" fill="none" stroke="#f018c4" stroke-width="1.8" stroke-dasharray="5.5 6.3" stroke-linejoin="round" clip-path="url(#c6)"/>
<rect x="35" y="383" width="162" height="134" fill="none" stroke="#a4a4a4" stroke-width="1"/>
<path d="M35.00,517v-1.3M35.00,383v1.3M40.59,517v-1.3M40.59,383v1.3M46.17,517v-1.3M46.17,383v1.3M51.76,517v-1.3M51.76,383v1.3M57.34,517v-2.6M57.34,383v2.6M62.93,517v-1.3M62.93,383v1.3M68.52,517v-1.3M68.52,383v1.3M74.10,517v-1.3M74.10,383v1.3M79.69,517v-1.3M79.69,383v1.3M85.28,517v-2.6M85.28,383v2.6M90.86,517v-1.3M90.86,383v1.3M96.45,517v-1.3M96.45,383v1.3M102.03,517v-1.3M102.03,383v1.3M107.62,517v-1.3M107.62,383v1.3M113.21,517v-2.6M113.21,383v2.6M118.79,517v-1.3M118.79,383v1.3M124.38,517v-1.3M124.38,383v1.3M129.97,517v-1.3M129.97,383v1.3M135.55,517v-1.3M135.55,383v1.3M141.14,517v-2.6M141.14,383v2.6M146.72,517v-1.3M146.72,383v1.3M152.31,517v-1.3M152.31,383v1.3M157.90,517v-1.3M157.90,383v1.3M163.48,517v-1.3M163.48,383v1.3M169.07,517v-2.6M169.07,383v2.6M174.66,517v-1.3M174.66,383v1.3M180.24,517v-1.3M180.24,383v1.3M185.83,517v-1.3M185.83,383v1.3M191.41,517v-1.3M191.41,383v1.3M197.00,517v-2.6M197.00,383v2.6M35,494.20h2.6M197,494.20h-2.6M35,458.97h2.6M197,458.97h-2.6M35,431.64h2.6M197,431.64h-2.6M35,409.31h2.6M197,409.31h-2.6M35,390.43h2.6M197,390.43h-2.6M35,516.53h1.3M197,516.53h-1.3M35,475.32h1.3M197,475.32h-1.3M35,444.54h1.3M197,444.54h-1.3M35,419.97h1.3M197,419.97h-1.3M35,399.51h1.3M197,399.51h-1.3" stroke="#4a4a4a" stroke-width="0.85" fill="none"/>
<text x="57.3" y="527.0" font-size="7.4" text-anchor="middle" font-weight="bold" fill="#333">0.5</text>
<text x="85.3" y="527.0" font-size="7.4" text-anchor="middle" font-weight="bold" fill="#333">1</text>
<text x="113.2" y="527.0" font-size="7.4" text-anchor="middle" font-weight="bold" fill="#333">1.5</text>
<text x="141.1" y="527.0" font-size="7.4" text-anchor="middle" font-weight="bold" fill="#333">2</text>
<text x="169.1" y="527.0" font-size="7.4" text-anchor="middle" font-weight="bold" fill="#333">2.5</text>
<text x="197.0" y="527.0" font-size="7.4" text-anchor="middle" font-weight="bold" fill="#333">3</text>
<text x="196.8" y="538.8" font-size="8" font-weight="bold" text-anchor="end" fill="#333"><tspan font-size="9.5" font-weight="normal" dy="1.2">×</tspan><tspan dx="1" dy="-1.2">10</tspan><tspan font-size="5.8" dy="-3.6">5</tspan></text>
<text x="116.0" y="538.5" font-size="10.2" text-anchor="middle" font-weight="bold" fill="#222">FEs</text>
<text x="116.0" y="380.6" font-size="10.5" text-anchor="middle" font-weight="bold" fill="#000">F23</text>
<text transform="translate(15.3,450.3) rotate(-90)" font-size="10.4" text-anchor="middle" font-weight="bold" fill="#333">Best Score</text>
<text x="32.5" y="497.5" font-size="7.2" text-anchor="end" font-weight="bold" fill="#333">3000</text>
<text x="32.5" y="462.3" font-size="7.2" text-anchor="end" font-weight="bold" fill="#333">4000</text>
<text x="32.5" y="434.9" font-size="7.2" text-anchor="end" font-weight="bold" fill="#333">5000</text>
<text x="32.5" y="412.6" font-size="7.2" text-anchor="end" font-weight="bold" fill="#333">6000</text>
<text x="32.5" y="393.7" font-size="7.2" text-anchor="end" font-weight="bold" fill="#333">7000</text>
<clipPath id="c7"><rect x="253" y="383.3" width="172" height="140.7"/></clipPath>
<polyline points="253.0,522.3 425.0,522.3" fill="none" stroke="#ff0a0a" stroke-width="2.5" stroke-linejoin="round" clip-path="url(#c7)"/>
<polyline points="252.9,413.2 256.7,440.5 272.8,445.3 288.9,451.7 301.7,461.3 314.5,475.8 327.4,493.5 343.5,511.1 359.5,518.5 375.6,521.4 425.0,522.4" fill="none" stroke="#f0ac2c" stroke-width="1.9" stroke-dasharray="1.5 1.3" stroke-linejoin="round" clip-path="url(#c7)"/>
<polyline points="252.9,429.2 258.4,506.3 279.2,507.9 425.0,508.9" fill="none" stroke="#20e040" stroke-width="1.7" stroke-dasharray="5.8 6.2" stroke-linejoin="round" clip-path="url(#c7)"/>
<polyline points="252.9,410.0 256.7,480.6 279.2,481.2 425.0,482.2" fill="none" stroke="#90e020" stroke-width="1.8" stroke-dasharray="6 1.8 2.3 1.8" stroke-linejoin="round" clip-path="url(#c7)"/>
<polyline points="252.9,384.3 258.4,480.6 264.8,495.1 272.8,503.1 279.2,505.7 295.3,506.3 300.1,507.9 306.5,512.7 327.4,514.3 359.5,515.9 375.6,517.9 425.0,518.5" fill="none" stroke="#22eef0" stroke-width="2.1" stroke-linejoin="round" clip-path="url(#c7)"/>
<polyline points="252.9,384.9 256.7,445.3 263.2,449.1 295.3,451.1 343.5,453.3 391.6,454.9 425.0,455.9" fill="none" stroke="#1a40e8" stroke-width="1.9" stroke-dasharray="1.6 1.45" stroke-linejoin="round" clip-path="url(#c7)"/>
<polyline points="252.9,390.7 256.7,461.3 263.2,466.2 279.2,468.4 311.3,472.6 343.5,474.8 391.6,476.8 425.0,477.4" fill="none" stroke="#6c10f0" stroke-width="2.0" stroke-dasharray="6 1.8 2.3 1.8" stroke-linejoin="round" clip-path="url(#c7)"/>
<polyline points="252.9,387.5 256.7,461.3 258.4,515.9 259.0,522.3 425.0,522.3" fill="none" stroke="#f018c4" stroke-width="1.8" stroke-dasharray="5.5 6.3" stroke-linejoin="round" clip-path="url(#c7)"/>
<rect x="253" y="384.3" width="172" height="138.7" fill="none" stroke="#a4a4a4" stroke-width="1"/>
<path d="M253.00,523v-1.3M253.00,384.3v1.3M258.93,523v-1.3M258.93,384.3v1.3M264.86,523v-1.3M264.86,384.3v1.3M270.79,523v-1.3M270.79,384.3v1.3M276.72,523v-2.6M276.72,384.3v2.6M282.66,523v-1.3M282.66,384.3v1.3M288.59,523v-1.3M288.59,384.3v1.3M294.52,523v-1.3M294.52,384.3v1.3M300.45,523v-1.3M300.45,384.3v1.3M306.38,523v-2.6M306.38,384.3v2.6M312.31,523v-1.3M312.31,384.3v1.3M318.24,523v-1.3M318.24,384.3v1.3M324.17,523v-1.3M324.17,384.3v1.3M330.10,523v-1.3M330.10,384.3v1.3M336.03,523v-2.6M336.03,384.3v2.6M341.97,523v-1.3M341.97,384.3v1.3M347.90,523v-1.3M347.90,384.3v1.3M353.83,523v-1.3M353.83,384.3v1.3M359.76,523v-1.3M359.76,384.3v1.3M365.69,523v-2.6M365.69,384.3v2.6M371.62,523v-1.3M371.62,384.3v1.3M377.55,523v-1.3M377.55,384.3v1.3M383.48,523v-1.3M383.48,384.3v1.3M389.41,523v-1.3M389.41,384.3v1.3M395.34,523v-2.6M395.34,384.3v2.6M401.28,523v-1.3M401.28,384.3v1.3M407.21,523v-1.3M407.21,384.3v1.3M413.14,523v-1.3M413.14,384.3v1.3M419.07,523v-1.3M419.07,384.3v1.3M425.00,523v-2.6M425.00,384.3v2.6M253,497.99h2.6M425,497.99h-2.6M253,469.67h2.6M425,469.67h-2.6M253,449.58h2.6M425,449.58h-2.6M253,434.00h2.6M425,434.00h-2.6M253,421.27h2.6M425,421.27h-2.6M253,410.50h2.6M425,410.50h-2.6M253,401.18h2.6M425,401.18h-2.6M253,392.95h2.6M425,392.95h-2.6M253,385.59h2.6M425,385.59h-2.6M253,518.08h1.3M425,518.08h-1.3M253,482.41h1.3M425,482.41h-1.3M253,458.91h1.3M425,458.91h-1.3M253,441.36h1.3M425,441.36h-1.3M253,427.34h1.3M425,427.34h-1.3M253,415.68h1.3M425,415.68h-1.3M253,405.68h1.3M425,405.68h-1.3M253,396.94h1.3M425,396.94h-1.3M253,389.18h1.3M425,389.18h-1.3" stroke="#4a4a4a" stroke-width="0.85" fill="none"/>
<text x="276.7" y="533.0" font-size="7.4" text-anchor="middle" font-weight="bold" fill="#333">0.5</text>
<text x="306.4" y="533.0" font-size="7.4" text-anchor="middle" font-weight="bold" fill="#333">1</text>
<text x="336.0" y="533.0" font-size="7.4" text-anchor="middle" font-weight="bold" fill="#333">1.5</text>
<text x="365.7" y="533.0" font-size="7.4" text-anchor="middle" font-weight="bold" fill="#333">2</text>
<text x="395.3" y="533.0" font-size="7.4" text-anchor="middle" font-weight="bold" fill="#333">2.5</text>
<text x="425.0" y="533.0" font-size="7.4" text-anchor="middle" font-weight="bold" fill="#333">3</text>
<text x="424.8" y="544.8" font-size="8" font-weight="bold" text-anchor="end" fill="#333"><tspan font-size="9.5" font-weight="normal" dy="1.2">×</tspan><tspan dx="1" dy="-1.2">10</tspan><tspan font-size="5.8" dy="-3.6">5</tspan></text>
<text x="339.0" y="544.5" font-size="10.2" text-anchor="middle" font-weight="bold" fill="#222">FEs</text>
<text x="339.0" y="381.9" font-size="10.5" text-anchor="middle" font-weight="bold" fill="#000">F26</text>
<text transform="translate(237.1,453.8) rotate(-90)" font-size="10.4" text-anchor="middle" font-weight="bold" fill="#333">Best Score</text>
<text x="250.5" y="501.3" font-size="7.2" text-anchor="end" font-weight="bold" fill="#333">0.4</text>
<text x="250.5" y="473.0" font-size="7.2" text-anchor="end" font-weight="bold" fill="#333">0.6</text>
<text x="250.5" y="452.9" font-size="7.2" text-anchor="end" font-weight="bold" fill="#333">0.8</text>
<text x="250.5" y="437.3" font-size="7.2" text-anchor="end" font-weight="bold" fill="#333">1</text>
<text x="250.5" y="424.6" font-size="7.2" text-anchor="end" font-weight="bold" fill="#333">1.2</text>
<text x="250.5" y="413.8" font-size="7.2" text-anchor="end" font-weight="bold" fill="#333">1.4</text>
<text x="250.5" y="404.5" font-size="7.2" text-anchor="end" font-weight="bold" fill="#333">1.6</text>
<text x="250.5" y="396.3" font-size="7.2" text-anchor="end" font-weight="bold" fill="#333">1.8</text>
<text x="250.5" y="388.9" font-size="7.2" text-anchor="end" font-weight="bold" fill="#333">2</text>
<clipPath id="c8"><rect x="491.3" y="392.7" width="172.40000000000003" height="132.59999999999997"/></clipPath>
<polyline points="491.0,523.9 663.0,523.9" fill="none" stroke="#ff0a0a" stroke-width="2.5" stroke-linejoin="round" clip-path="url(#c8)"/>
<polyline points="491.3,398.5 495.3,412.0 512.1,420.3 539.0,432.1 555.7,442.2 570.0,452.4 580.8,456.8 595.9,463.2 608.8,466.4 621.7,469.7 634.6,470.8 663.0,471.3" fill="none" stroke="#f0ac2c" stroke-width="1.9" stroke-dasharray="1.5 1.3" stroke-linejoin="round" clip-path="url(#c8)"/>
<polyline points="491.3,400.0 497.0,452.9 512.1,457.3 539.0,460.6 589.3,463.0 663.0,465.0" fill="none" stroke="#20e040" stroke-width="1.7" stroke-dasharray="5.8 6.2" stroke-linejoin="round" clip-path="url(#c8)"/>
<polyline points="491.3,405.0 495.3,455.6 505.4,463.0 539.0,466.3 589.3,468.4 663.0,470.0" fill="none" stroke="#90e020" stroke-width="1.8" stroke-dasharray="6 1.8 2.3 1.8" stroke-linejoin="round" clip-path="url(#c8)"/>
<polyline points="491.3,395.1 496.0,459.0 497.0,480.8 505.4,489.2 515.4,495.9 532.2,502.6 555.7,503.6 572.5,506.0 606.1,506.6 663.0,508.6" fill="none" stroke="#22eef0" stroke-width="2.1" stroke-linejoin="round" clip-path="url(#c8)"/>
<polyline points="491.3,395.1 497.0,417.0 505.4,419.7 538.9,423.7 572.5,425.4 606.1,427.0 639.7,428.1 663.0,429.7" fill="none" stroke="#1a40e8" stroke-width="1.9" stroke-dasharray="1.6 1.45" stroke-linejoin="round" clip-path="url(#c8)"/>
<polyline points="491.3,398.5 495.3,455.6 502.0,467.3 522.2,477.4 539.0,484.1 555.7,489.2 589.3,490.8 622.9,494.2 663.0,498.6" fill="none" stroke="#6c10f0" stroke-width="2.0" stroke-dasharray="6 1.8 2.3 1.8" stroke-linejoin="round" clip-path="url(#c8)"/>
<polyline points="491.3,395.1 496.4,498.0 497.0,514.0 503.5,523.9 663.0,523.9" fill="none" stroke="#f018c4" stroke-width="1.8" stroke-dasharray="5.5 6.3" stroke-linejoin="round" clip-path="url(#c8)"/>
<rect x="491.3" y="393.7" width="172.40000000000003" height="130.59999999999997" fill="none" stroke="#a4a4a4" stroke-width="1"/>
<path d="M491.30,524.3v-1.3M491.30,393.7v1.3M497.24,524.3v-1.3M497.24,393.7v1.3M503.19,524.3v-1.3M503.19,393.7v1.3M509.13,524.3v-1.3M509.13,393.7v1.3M515.08,524.3v-2.6M515.08,393.7v2.6M521.02,524.3v-1.3M521.02,393.7v1.3M526.97,524.3v-1.3M526.97,393.7v1.3M532.91,524.3v-1.3M532.91,393.7v1.3M538.86,524.3v-1.3M538.86,393.7v1.3M544.80,524.3v-2.6M544.80,393.7v2.6M550.75,524.3v-1.3M550.75,393.7v1.3M556.69,524.3v-1.3M556.69,393.7v1.3M562.64,524.3v-1.3M562.64,393.7v1.3M568.58,524.3v-1.3M568.58,393.7v1.3M574.53,524.3v-2.6M574.53,393.7v2.6M580.47,524.3v-1.3M580.47,393.7v1.3M586.42,524.3v-1.3M586.42,393.7v1.3M592.36,524.3v-1.3M592.36,393.7v1.3M598.31,524.3v-1.3M598.31,393.7v1.3M604.25,524.3v-2.6M604.25,393.7v2.6M610.20,524.3v-1.3M610.20,393.7v1.3M616.14,524.3v-1.3M616.14,393.7v1.3M622.09,524.3v-1.3M622.09,393.7v1.3M628.03,524.3v-1.3M628.03,393.7v1.3M633.98,524.3v-2.6M633.98,393.7v2.6M639.92,524.3v-1.3M639.92,393.7v1.3M645.87,524.3v-1.3M645.87,393.7v1.3M651.81,524.3v-1.3M651.81,393.7v1.3M657.76,524.3v-1.3M657.76,393.7v1.3M663.70,524.3v-2.6M663.70,393.7v2.6M491.3,515.00h2.6M663.7,515.00h-2.6M491.3,473.60h2.6M663.7,473.60h-2.6M491.3,432.20h2.6M663.7,432.20h-2.6M491.3,523.24h1.3M663.7,523.24h-1.3M491.3,521.23h1.3M663.7,521.23h-1.3M491.3,519.59h1.3M663.7,519.59h-1.3M491.3,518.21h1.3M663.7,518.21h-1.3M491.3,517.01h1.3M663.7,517.01h-1.3M491.3,515.95h1.3M663.7,515.95h-1.3M491.3,508.77h1.3M663.7,508.77h-1.3M491.3,505.12h1.3M663.7,505.12h-1.3M491.3,502.54h1.3M663.7,502.54h-1.3M491.3,500.53h1.3M663.7,500.53h-1.3M491.3,498.89h1.3M663.7,498.89h-1.3M491.3,497.51h1.3M663.7,497.51h-1.3M491.3,496.31h1.3M663.7,496.31h-1.3M491.3,495.25h1.3M663.7,495.25h-1.3M491.3,488.07h1.3M663.7,488.07h-1.3M491.3,484.42h1.3M663.7,484.42h-1.3M491.3,481.84h1.3M663.7,481.84h-1.3M491.3,479.83h1.3M663.7,479.83h-1.3M491.3,478.19h1.3M663.7,478.19h-1.3M491.3,476.81h1.3M663.7,476.81h-1.3M491.3,475.61h1.3M663.7,475.61h-1.3M491.3,474.55h1.3M663.7,474.55h-1.3M491.3,467.37h1.3M663.7,467.37h-1.3M491.3,463.72h1.3M663.7,463.72h-1.3M491.3,461.14h1.3M663.7,461.14h-1.3M491.3,459.13h1.3M663.7,459.13h-1.3M491.3,457.49h1.3M663.7,457.49h-1.3M491.3,456.11h1.3M663.7,456.11h-1.3M491.3,454.91h1.3M663.7,454.91h-1.3M491.3,453.85h1.3M663.7,453.85h-1.3M491.3,446.67h1.3M663.7,446.67h-1.3M491.3,443.02h1.3M663.7,443.02h-1.3M491.3,440.44h1.3M663.7,440.44h-1.3M491.3,438.43h1.3M663.7,438.43h-1.3M491.3,436.79h1.3M663.7,436.79h-1.3M491.3,435.41h1.3M663.7,435.41h-1.3M491.3,434.21h1.3M663.7,434.21h-1.3M491.3,433.15h1.3M663.7,433.15h-1.3M491.3,425.97h1.3M663.7,425.97h-1.3M491.3,422.32h1.3M663.7,422.32h-1.3M491.3,419.74h1.3M663.7,419.74h-1.3M491.3,417.73h1.3M663.7,417.73h-1.3M491.3,416.09h1.3M663.7,416.09h-1.3M491.3,414.71h1.3M663.7,414.71h-1.3M491.3,413.51h1.3M663.7,413.51h-1.3M491.3,412.45h1.3M663.7,412.45h-1.3M491.3,405.27h1.3M663.7,405.27h-1.3M491.3,401.62h1.3M663.7,401.62h-1.3M491.3,399.04h1.3M663.7,399.04h-1.3M491.3,397.03h1.3M663.7,397.03h-1.3M491.3,395.39h1.3M663.7,395.39h-1.3M491.3,394.01h1.3M663.7,394.01h-1.3" stroke="#4a4a4a" stroke-width="0.85" fill="none"/>
<text x="515.1" y="534.3" font-size="7.4" text-anchor="middle" font-weight="bold" fill="#333">0.5</text>
<text x="544.8" y="534.3" font-size="7.4" text-anchor="middle" font-weight="bold" fill="#333">1</text>
<text x="574.5" y="534.3" font-size="7.4" text-anchor="middle" font-weight="bold" fill="#333">1.5</text>
<text x="604.3" y="534.3" font-size="7.4" text-anchor="middle" font-weight="bold" fill="#333">2</text>
<text x="634.0" y="534.3" font-size="7.4" text-anchor="middle" font-weight="bold" fill="#333">2.5</text>
<text x="663.7" y="534.3" font-size="7.4" text-anchor="middle" font-weight="bold" fill="#333">3</text>
<text x="663.5" y="546.1" font-size="8" font-weight="bold" text-anchor="end" fill="#333"><tspan font-size="9.5" font-weight="normal" dy="1.2">×</tspan><tspan dx="1" dy="-1.2">10</tspan><tspan font-size="5.8" dy="-3.6">5</tspan></text>
<text x="577.5" y="545.8" font-size="10.2" text-anchor="middle" font-weight="bold" fill="#222">FEs</text>
<text x="577.5" y="391.3" font-size="10.5" text-anchor="middle" font-weight="bold" fill="#000">F30</text>
<text transform="translate(473.7,458.3) rotate(-90)" font-size="10.4" text-anchor="middle" font-weight="bold" fill="#333">Best Score</text>
<text x="488.1" y="518.6" font-size="7.5" font-weight="bold" text-anchor="end" fill="#333">10<tspan font-size="5.6" dy="-3.5">4</tspan></text>
<text x="488.1" y="477.2" font-size="7.5" font-weight="bold" text-anchor="end" fill="#333">10<tspan font-size="5.6" dy="-3.5">6</tspan></text>
<text x="488.1" y="435.8" font-size="7.5" font-weight="bold" text-anchor="end" fill="#333">10<tspan font-size="5.6" dy="-3.5">8</tspan></text>
<text x="253.5" y="382.7" font-size="7.6" font-weight="bold" fill="#333"><tspan font-size="9" font-weight="normal">×</tspan>10<tspan font-size="5.4" dy="-3.2">4</tspan></text>
<rect x="618.8" y="196" width="45.6" height="42.2" fill="#fff" stroke="#777" stroke-width="0.9"/>
<polyline points="619.3,206.5 664.0,206.5" fill="none" stroke="#f018c4" stroke-width="1.8" stroke-dasharray="5.5 6.3" stroke-linejoin="round"/>
<polyline points="619.3,219.0 664.0,219.0" fill="none" stroke="#6c10f0" stroke-width="2.0" stroke-dasharray="6 1.8 2.3 1.8" stroke-linejoin="round"/>
<polyline points="619.3,220.7 664.0,220.7" fill="none" stroke="#20e040" stroke-width="1.7" stroke-dasharray="5.8 6.2" stroke-linejoin="round"/>
<polyline points="619.3,222.0 664.0,222.0" fill="none" stroke="#f0ac2c" stroke-width="1.9" stroke-dasharray="1.5 1.3" stroke-linejoin="round"/>
<polyline points="619.3,225.2 664.0,225.2" fill="none" stroke="#90e020" stroke-width="1.8" stroke-dasharray="6 1.8 2.3 1.8" stroke-linejoin="round"/>
<polyline points="619.3,226.8 664.0,226.8" fill="none" stroke="#22eef0" stroke-width="2.1" stroke-linejoin="round"/>
<polyline points="619.3,238.0 664.0,238.0" fill="none" stroke="#ff0a0a" stroke-width="2.5" stroke-linejoin="round"/>
<path d="M652.6,340 L662.2,242.5" stroke="#333" stroke-width="0.6" stroke-dasharray="2.2 1.3" fill="none"/>
<path d="M662.4,239.5 L660.6,244 L664,244 Z" fill="#222"/>
<rect x="0.7" y="560.3" width="683.5" height="66" fill="none" stroke="#7a8ab0" stroke-width="1.2"/>
<path d="M21.1,581.5H59.8" stroke="#ff0000" stroke-width="3" fill="none"/>
<text x="72" y="587.8" font-size="17" font-weight="bold" fill="#000">CCHSMA</text>
<path d="M167,581.5H202" stroke="#f07a1c" stroke-width="3" stroke-dasharray="3 4.85" fill="none"/>
<text x="219.6" y="588.2" font-size="17" font-weight="bold" fill="#000">SSA</text>
<path d="M321.6,583.3H364" stroke="#12e012" stroke-width="3" stroke-dasharray="10.5 5" fill="none"/>
<text x="378" y="588.2" font-size="17" font-weight="bold" fill="#000">PSO</text>
<path d="M499.5,583.3H534" stroke="#99ea08" stroke-width="3" stroke-dasharray="10.5 5 2.8 5" fill="none"/>
<text x="563.4" y="586.5" font-size="17" font-weight="bold" fill="#000">BA</text>
<path d="M20.7,606.1H62.5" stroke="#1a5cff" stroke-width="2.8" stroke-dasharray="10.2 5.3 2.6 5.1" fill="none"/>
<text x="73.7" y="610.8" font-size="17" font-weight="bold" fill="#000">FA</text>
<path d="M168.3,606.2H203" stroke="#1408f0" stroke-width="3" stroke-dasharray="10.5 5.3" fill="none"/>
<text x="222" y="611.2" font-size="17" font-weight="bold" fill="#000">DE</text>
<path d="M321.6,604.2H364" stroke="#7ff0f6" stroke-width="3" fill="none"/>
<text x="378.7" y="609.2" font-size="17" font-weight="bold" fill="#000">ABC</text>
<path d="M498,604H537.6" stroke="#b200e0" stroke-width="2.8" stroke-dasharray="5.4 2.5" fill="none"/>
<text x="564" y="610.9" font-size="17" font-weight="bold" fill="#000">HHO</text>
</svg></body></html>
